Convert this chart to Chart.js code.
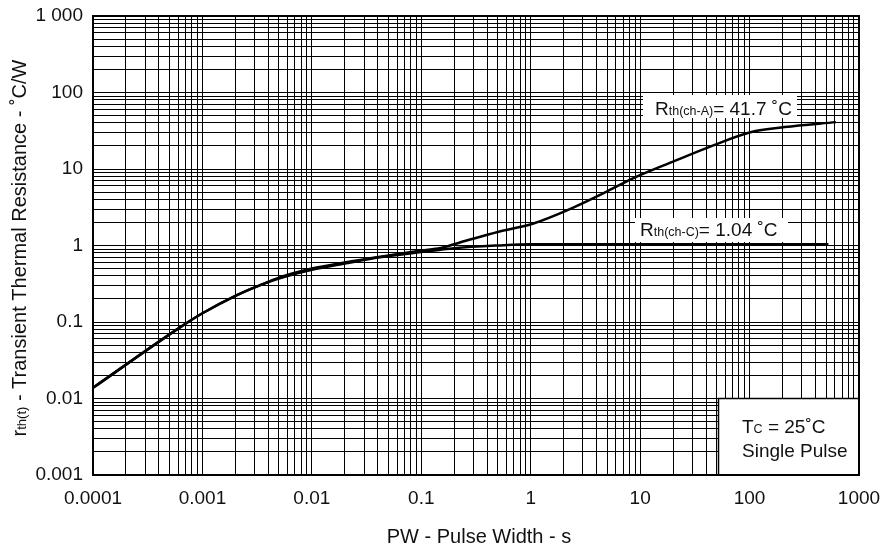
<!DOCTYPE html>
<html>
<head>
<meta charset="utf-8">
<script src="https://cdn.jsdelivr.net/npm/chart.js@4.4.0/dist/chart.umd.min.js"></script>
<style>
  html, body { margin: 0; padding: 0; background: #fff; }
</style>
</head>
<body>
<canvas id="thermalChart" width="880" height="547"></canvas>
<script>
// decade labels on each axis
const xTickLabels = ['0.0001', '0.001', '0.01', '0.1', '1', '10', '100', '1000'];
const yTickLabels = ['0.001', '0.01', '0.1', '1', '10', '100', '1 000'];
const minorSteps = [1, 2, 3, 4, 5, 6, 7, 8, 9];

// channel to ambient curve
const pulseWidthA = [0.0001, 0.0006, 0.001, 0.002, 0.0035, 0.005, 0.01, 0.02, 0.05, 0.1, 0.15, 0.26, 0.5, 1.06, 2.17, 5, 8.7, 20, 42, 102, 209, 615];
const resistanceA = [0.0138, 0.082, 0.13, 0.22, 0.31, 0.38, 0.5, 0.6, 0.74, 0.86, 0.93, 1.16, 1.5, 1.94, 2.9, 5.1, 7.6, 12.5, 19.2, 30.3, 35.3, 41];

// channel to case curve
const pulseWidthC = [0.0001, 0.0006, 0.001, 0.002, 0.0035, 0.005, 0.01, 0.02, 0.042, 0.1, 0.2, 0.5, 1, 2, 525];
const resistanceC = [0.0138, 0.082, 0.13, 0.22, 0.31, 0.37, 0.48, 0.58, 0.70, 0.82, 0.92, 1.0, 1.04, 1.04, 1.04];

const FONT = '"Liberation Sans", Arial, sans-serif';
const toNum = s => Number(s.replace(/\s/g, ''));
const xDecades = xTickLabels.map(toNum);
const yDecades = yTickLabels.map(toNum);

function gridTicks(decades) {
    const ticks = [];
    decades.forEach((d, i) => {
        if (i === decades.length - 1) {
            ticks.push({ value: d });
            return;
        }
        minorSteps.forEach(m => ticks.push({ value: parseFloat((d * m).toPrecision(6)) }));
    });
    return ticks;
}

function decadeLabel(decades, labels, value) {
    const i = decades.findIndex(d => Math.abs(d - value) / d < 1e-6);
    return i >= 0 ? labels[i] : '';
}

// text with small subscript parts, all on one baseline
function drawRuns(ctx, x, y, runs) {
    runs.forEach(([text, size]) => {
        ctx.font = size + 'px ' + FONT;
        ctx.fillText(text, x, y);
        x += ctx.measureText(text).width;
    });
}

function runsWidth(ctx, runs) {
    let w = 0;
    runs.forEach(([text, size]) => {
        ctx.font = size + 'px ' + FONT;
        w += ctx.measureText(text).width;
    });
    return w;
}

const overlayPlugin = {
    id: 'overlay',
    beforeDatasetsDraw(chart) {
        const ctx = chart.ctx;
        const a = chart.chartArea;
        ctx.save();
        ctx.fillStyle = '#fff';
        // label backgrounds
        ctx.fillRect(643, 95, 154, 23);
        ctx.fillRect(635, 218, 153, 24);
        ctx.fillRect(718, 398, a.right - 718, a.bottom - 398);
        ctx.strokeStyle = '#000';
        ctx.lineWidth = 1.5;
        ctx.beginPath();
        ctx.moveTo(718.5, a.bottom);
        ctx.lineTo(718.5, 398.5);
        ctx.lineTo(a.right, 398.5);
        ctx.stroke();

        ctx.fillStyle = '#111';
        ctx.textBaseline = 'alphabetic';
        ctx.textAlign = 'left';
        drawRuns(ctx, 655, 115, [['R', 19], ['th(ch-A)', 12.5], ['= 41.7 ˚C', 19]]);
        drawRuns(ctx, 640, 236, [['R', 19], ['th(ch-C)', 12.5], ['= 1.04 ˚C', 19]]);
        drawRuns(ctx, 742, 433, [['T', 19], ['C', 12.5], [' = 25˚C', 19]]);
        drawRuns(ctx, 742, 457, [['Single Pulse', 19]]);
        ctx.restore();
    },
    afterDraw(chart) {
        const ctx = chart.ctx;
        const a = chart.chartArea;
        ctx.save();
        ctx.strokeStyle = '#000';
        ctx.lineWidth = 2;
        ctx.strokeRect(a.left, a.top, a.right - a.left, a.bottom - a.top);

        ctx.fillStyle = '#111';
        ctx.textBaseline = 'alphabetic';
        // x axis title
        ctx.textAlign = 'center';
        ctx.font = '20px ' + FONT;
        ctx.fillText('PW - Pulse Width - s', 479, 543);

        // y axis title, rotated
        const yRuns = [['r', 20], ['th(t)', 13], [' - Transient Thermal Resistance - ˚C/W', 20]];
        ctx.textAlign = 'left';
        ctx.translate(26, 248);
        ctx.rotate(-Math.PI / 2);
        drawRuns(ctx, -runsWidth(ctx, yRuns) / 2, 0, yRuns);
        ctx.restore();
    }
};

const ctx = document.getElementById('thermalChart').getContext('2d');

new Chart(ctx, {
    type: 'line',
    data: {
        datasets: [{
            label: 'Rth(ch-A)',
            data: pulseWidthA.map((x, i) => ({ x: x, y: resistanceA[i] })),
            borderColor: '#000',
            borderWidth: 2.5,
            pointRadius: 0,
            fill: false,
            cubicInterpolationMode: 'monotone'
        }, {
            label: 'Rth(ch-C)',
            data: pulseWidthC.map((x, i) => ({ x: x, y: resistanceC[i] })),
            borderColor: '#000',
            borderWidth: 2.5,
            pointRadius: 0,
            fill: false,
            cubicInterpolationMode: 'monotone'
        }]
    },
    options: {
        responsive: false,
        animation: false,
        layout: { padding: { left: 0, right: 21, top: 16, bottom: 0 } },
        plugins: {
            legend: { display: false },
            tooltip: { enabled: false }
        },
        scales: {
            x: {
                type: 'logarithmic',
                min: xDecades[0],
                max: xDecades[xDecades.length - 1],
                afterBuildTicks: scale => { scale.ticks = gridTicks(xDecades); },
                afterFit: scale => {
                    scale.height = 72;
                    scale.paddingLeft = 0;
                    scale.paddingRight = 0;
                },
                grid: { color: '#000', lineWidth: 1, drawTicks: false },
                border: { display: false },
                ticks: {
                    autoSkip: false,
                    maxRotation: 0,
                    padding: 12,
                    color: '#111',
                    font: { family: FONT, size: 19 },
                    callback: value => decadeLabel(xDecades, xTickLabels, value)
                }
            },
            y: {
                type: 'logarithmic',
                min: yDecades[0],
                max: yDecades[yDecades.length - 1],
                afterBuildTicks: scale => { scale.ticks = gridTicks(yDecades); },
                afterFit: scale => {
                    scale.width = 93;
                    scale.paddingTop = 0;
                    scale.paddingBottom = 0;
                },
                grid: { color: '#000', lineWidth: 1, drawTicks: false },
                border: { display: false },
                ticks: {
                    autoSkip: false,
                    padding: 10,
                    color: '#111',
                    font: { family: FONT, size: 19 },
                    callback: value => decadeLabel(yDecades, yTickLabels, value)
                }
            }
        }
    },
    plugins: [overlayPlugin]
});
</script>
</body>
</html>
